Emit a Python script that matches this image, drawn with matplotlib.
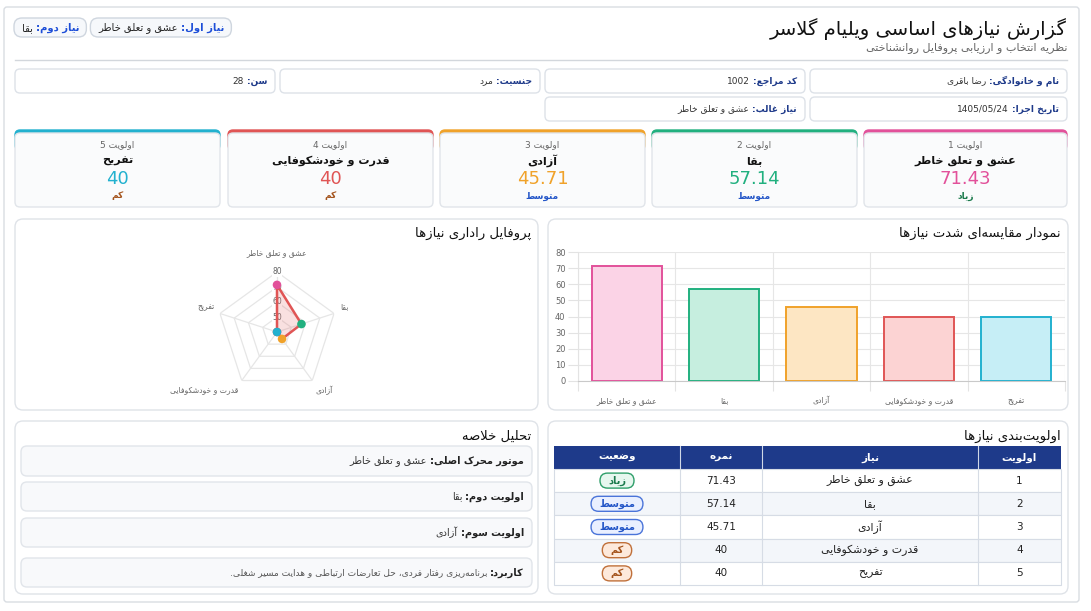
import re
import numpy as np
import matplotlib
matplotlib.use("Agg")
from matplotlib import pyplot as plt
from matplotlib.patches import FancyBboxPatch, Rectangle

plt.rcParams['font.family'] = ['DejaVu Sans']

# ---- data ----
needs = ['عشق و تعلق خاطر', 'بقا', 'آزادی', 'قدرت و خودشکوفایی', 'تفریح']
scores = [71.43, 57.14, 45.71, 40, 40]
levels = ['زیاد', 'متوسط', 'متوسط', 'کم', 'کم']
priorities = [1, 2, 3, 4, 5]
need_colors = ['#e2519a', '#21b07f', '#f0a22a', '#e05555', '#22b1cf']
need_fills = ['#fbd3e6', '#c6eedf', '#fde6c3', '#fcd3d3', '#c6eef6']

info_labels = ['نام و خانوادگی:', 'کد مراجع:', 'جنسیت:', 'سن:', 'تاریخ اجرا:', 'نیاز غالب:']
info_values = ['رضا باقری', '1002', 'مرد', '28', '1405/05/24', 'عشق و تعلق خاطر']

title = 'گزارش نیازهای اساسی ویلیام گلاسر'
subtitle = 'نظریه انتخاب و ارزیابی پروفایل روانشناختی'
badge_labels = ['نیاز اول:', 'نیاز دوم:']
badge_values = ['عشق و تعلق خاطر', 'بقا']

summary_labels = ['موتور محرک اصلی:', 'اولویت دوم:', 'اولویت سوم:', 'کاربرد:']
summary_values = ['عشق و تعلق خاطر', 'بقا', 'آزادی',
                  'برنامه‌ریزی رفتار فردی، حل تعارضات ارتباطی و هدایت مسیر شغلی.']

table_cols = ['اولویت', 'نیاز', 'نمره', 'وضعیت']

level_style = {
    'زیاد': ('#e7f7ef', '#2e9e69', '#1b7a4c'),
    'متوسط': ('#e9efff', '#4a74d9', '#2456c8'),
    'کم': ('#fde9db', '#c0703a', '#a4541d'),
}

# ---- minimal persian shaping + rtl ordering ----
DUAL = {'ب': 0xFE8F, 'پ': 0xFB56, 'ت': 0xFE95, 'ث': 0xFE99, 'ج': 0xFE9D, 'چ': 0xFB7A,
        'ح': 0xFEA1, 'خ': 0xFEA5, 'س': 0xFEB1, 'ش': 0xFEB5, 'ص': 0xFEB9, 'ض': 0xFEBD,
        'ط': 0xFEC1, 'ظ': 0xFEC5, 'ع': 0xFEC9, 'غ': 0xFECD, 'ف': 0xFED1, 'ق': 0xFED5,
        'ک': 0xFB8E, 'گ': 0xFB92, 'ل': 0xFEDD, 'م': 0xFEE1, 'ن': 0xFEE5, 'ه': 0xFEE9,
        'ی': 0xFBFC}
RIGHT = {'ا': 0xFE8D, 'آ': 0xFE81, 'د': 0xFEA9, 'ذ': 0xFEAB, 'ر': 0xFEAD, 'ز': 0xFEAF,
         'ژ': 0xFB8A, 'و': 0xFEED}


def shape(s):
    out = []
    i, n = 0, len(s)
    while i < n:
        c = s[i]
        if c not in DUAL and c not in RIGHT:
            if c != '\u200c':
                out.append(c)
            i += 1
            continue
        jp = i > 0 and s[i - 1] in DUAL
        if c == 'ل' and i + 1 < n and s[i + 1] in 'اآ':
            base = 0xFEFB if s[i + 1] == 'ا' else 0xFEF5
            out.append(chr(base + (1 if jp else 0)))
            i += 2
            continue
        nxt = s[i + 1] if i + 1 < n else ''
        if c in DUAL:
            jn = nxt in DUAL or nxt in RIGHT
            f = 3 if (jp and jn) else 1 if jp else 2 if jn else 0
            out.append(chr(DUAL[c] + f))
        else:
            out.append(chr(RIGHT[c] + (1 if jp else 0)))
        i += 1
    return ''.join(out)


def fa(s):
    runs = re.findall(r'[0-9A-Za-z][0-9A-Za-z./]*|[^0-9A-Za-z]+', shape(s))
    return ''.join(r if r[0].isascii() and r[0].isalnum() else r[::-1]
                   for r in reversed(runs))


# ---- canvas ----
W, H = 1091, 611
fig = plt.figure(figsize=(W / 100, H / 100), dpi=100)
fig.patch.set_facecolor('white')
bg = fig.add_axes([0, 0, 1, 1])
bg.set_xlim(0, W)
bg.set_ylim(H, 0)
bg.axis('off')
renderer = fig.canvas.get_renderer()


def rbox(x0, y0, x1, y1, fc='white', ec='#dfe3e8', r=6, lw=1, z=1):
    p = FancyBboxPatch((x0, y0), x1 - x0, y1 - y0,
                       boxstyle='round,pad=0,rounding_size=%s' % r,
                       fc=fc, ec=ec, lw=lw, zorder=z)
    bg.add_patch(p)
    return p


def txt(x, y, s, size=7, color='#222', weight='normal', ha='right', z=5):
    return bg.text(x, y, fa(s), fontsize=size, color=color, weight=weight,
                   ha=ha, va='center', zorder=z)


def width_of(t):
    return t.get_window_extent(renderer).width


def rich(xr, y, parts, gap=3):
    # parts laid out right to left
    x = xr
    for s, size, color, weight in parts:
        t = txt(x, y, s, size, color, weight)
        x -= width_of(t) + gap
    return x


# outer container
rbox(4, 7, 1079, 602, fc='white', ec='#d9dde2', r=3)

# header
txt(1067, 29, title, size=14, color='#111')
txt(1067, 48, subtitle, size=8, color='#666')
bg.plot([15, 1067], [60, 60], color='#d3d7dc', lw=1, zorder=2)

x = 14
for lab, val in reversed(list(zip(badge_labels, badge_values))):
    t1 = txt(0, 28, lab, 7.2, '#1d4ed8', 'bold')
    t2 = txt(0, 28, val, 7.2, '#222', 'normal')
    w1, w2 = width_of(t1), width_of(t2)
    t1.remove()
    t2.remove()
    bw = w1 + w2 + 18
    rbox(x, 18, x + bw, 37, fc='#f6f8fb', ec='#cfd6df', r=8)
    rich(x + bw - 7, 28, [(lab, 7.2, '#1d4ed8', 'bold'), (val, 7.2, '#222', 'normal')])
    x += bw + 4

# info boxes
info_boxes = [(810, 69, 1067, 93), (545, 69, 805, 93), (280, 69, 540, 93), (15, 69, 275, 93),
              (810, 97, 1067, 121), (545, 97, 805, 121)]
for (x0, y0, x1, y1), lab, val in zip(info_boxes, info_labels, info_values):
    rbox(x0, y0, x1, y1, fc='white', ec='#dde2e8', r=5)
    rich(x1 - 8, (y0 + y1) / 2, [(lab, 6.5, '#1e3a8a', 'bold'), (val, 6.5, '#333', 'normal')])

# priority cards
card_x = [(864, 1067), (652, 857), (440, 645), (228, 433), (15, 220)]
for (x0, x1), p, nm, sc, lv, col in zip(card_x, priorities, needs, scores, levels, need_colors):
    rbox(x0, 130, x1, 150, fc=col, ec=col, r=5, z=1)
    rbox(x0, 133, x1, 207, fc='#fafbfc', ec='#e1e5ea', r=5, z=2)
    cx = (x0 + x1) / 2
    txt(cx, 145, 'اولویت %d' % p, 6.5, '#666', ha='center')
    txt(cx, 161, nm, 8, '#111', 'bold', ha='center')
    txt(cx, 179, ('%g' % sc), 13, col, ha='center')
    txt(cx, 196, lv, 6.5, level_style[lv][2], 'bold', ha='center')

# panels
rbox(15, 219, 538, 410, fc='white', ec='#dfe3e8', r=8)
rbox(548, 219, 1068, 410, fc='white', ec='#dfe3e8', r=8)
rbox(15, 421, 538, 594, fc='white', ec='#dfe3e8', r=8)
rbox(548, 421, 1068, 594, fc='white', ec='#dfe3e8', r=8)
txt(531, 233, 'پروفایل راداری نیازها', 9.5, '#111')
txt(1061, 233, 'نمودار مقایسه‌ای شدت نیازها', 9.5, '#111')
txt(531, 436, 'تحلیل خلاصه', 9.5, '#111')
txt(1061, 436, 'اولویت‌بندی نیازها', 9.5, '#111')

# ---- radar ----
cx, cy, R = 277, 332, 60
rax = fig.add_axes([(cx - R) / W, 1 - (cy + R) / H, 2 * R / W, 2 * R / H], projection='polar')
rax.set_theta_zero_location('N')
rax.set_theta_direction(-1)
rax.set_ylim(40, 80)
rax.grid(False)
rax.spines['polar'].set_visible(False)
rax.set_xticks([])
rax.set_yticks([])
rax.patch.set_alpha(0)
theta = np.linspace(0, 2 * np.pi, len(needs), endpoint=False)
tc = np.append(theta, theta[0])
for r in [50, 60, 70, 80]:
    rax.plot(tc, [r] * len(tc), color='#e6e6e6', lw=0.9, zorder=1)
for th in theta:
    rax.plot([th, th], [40, 80], color='#e6e6e6', lw=0.9, zorder=1)
for r in [50, 60, 70, 80]:
    rax.text(0, r, str(r), fontsize=5.5, color='#666', ha='center', va='center', zorder=2,
             bbox=dict(fc='white', ec='none', pad=0.3))
sc_c = np.append(scores, scores[0])
rax.fill(tc, sc_c, color='#e05555', alpha=0.18, zorder=3, lw=0)
rax.plot(tc, sc_c, color='#e05555', lw=1.8, zorder=4)
rax.scatter(theta, scores, c=need_colors, s=38, zorder=5, edgecolors='none', clip_on=False)
for th, nm in zip(theta, needs):
    s = np.sin(th)
    ha = 'center' if abs(s) < 0.1 else ('left' if s > 0 else 'right')
    c = np.cos(th)
    va = 'bottom' if c > 0.1 else 'top'
    rr = 90 if abs(s) < 0.1 else 84
    rax.text(th, rr, fa(nm), fontsize=5.5, color='#666', ha=ha, va=va, clip_on=False)

# ---- bar chart ----
bx0, bx1, by0, by1 = 578, 1065, 252, 381
bax = fig.add_axes([bx0 / W, 1 - by1 / H, (bx1 - bx0) / W, (by1 - by0) / H])
xs = np.arange(len(needs))
bars = bax.bar(xs, scores, width=0.72, color=need_fills, edgecolor=need_colors, linewidth=1.4, zorder=3)
bax.set_xlim(-0.5, len(needs) - 0.5)
bax.set_ylim(0, 80)
bax.set_yticks(range(0, 81, 10))
bax.set_xticks(xs)
bax.set_xticklabels([fa(n) for n in needs], fontsize=5.5, color='#666')
bax.set_xticks(np.arange(-0.5, len(needs), 1), minor=True)
bax.tick_params(axis='x', which='major', length=0, pad=11)
bax.tick_params(axis='x', which='minor', length=7, color='#e3e3e3', width=0.8)
bax.tick_params(axis='y', length=7, color='#e3e3e3', width=0.8, labelsize=6, labelcolor='#666', pad=2)
bax.grid(axis='y', color='#e6e6e6', lw=0.8, zorder=0)
bax.grid(axis='x', which='minor', color='#e6e6e6', lw=0.8, zorder=0)
for sp in ['top', 'right']:
    bax.spines[sp].set_visible(False)
bax.spines['left'].set_color('#e3e3e3')
bax.spines['bottom'].set_color('#c9c9c9')
bax.spines['bottom'].set_zorder(4)
bax.patch.set_alpha(0)

# ---- summary ----
sum_boxes = [(446, 476), (482, 511), (518, 547), (558, 587)]
for (y0, y1), lab, val, k in zip(sum_boxes, summary_labels, summary_values, range(4)):
    rbox(21, y0, 532, y1, fc='#f8f9fb', ec='#e1e5ea', r=6)
    vcol = '#555' if k == 3 else '#333'
    vsz = 6.5 if k == 3 else 7
    rich(524, (y0 + y1) / 2, [(lab, 7, '#222', 'bold'), (val, vsz, vcol, 'normal')])

# ---- table ----
col_x = [1061, 978, 762, 680, 554]
hy0, hy1 = 446, 469
row_h = 23.2
bg.add_patch(Rectangle((col_x[-1], hy0), col_x[0] - col_x[-1], hy1 - hy0, fc='#1e3a8a', ec='none', zorder=3))
for j, name in enumerate(table_cols):
    xc = (col_x[j] + col_x[j + 1]) / 2
    txt(xc, (hy0 + hy1) / 2, name, 7.5, 'white', 'bold', ha='center', z=6)
for k in range(1, 4):
    bg.plot([col_x[k]] * 2, [hy0, hy1], color='#d0d8e6', lw=0.8, zorder=4)
for i, (p, nm, sc, lv) in enumerate(zip(priorities, needs, scores, levels)):
    y0 = hy1 + i * row_h
    fc = '#f3f6fa' if i % 2 == 1 else 'white'
    bg.add_patch(Rectangle((col_x[-1], y0), col_x[0] - col_x[-1], row_h, fc=fc, ec='#d6dce5', lw=0.8, zorder=3))
    for k in range(1, 4):
        bg.plot([col_x[k]] * 2, [y0, y0 + row_h], color='#d6dce5', lw=0.8, zorder=4)
    yc = y0 + row_h / 2
    txt((col_x[0] + col_x[1]) / 2, yc, str(p), 7.5, '#222', ha='center', z=6)
    txt((col_x[1] + col_x[2]) / 2, yc, nm, 7.8, '#222', ha='center', z=6)
    txt((col_x[2] + col_x[3]) / 2, yc, '%g' % sc, 7.5, '#222', ha='center', z=6)
    bfc, bec, btc = level_style[lv]
    xc = (col_x[3] + col_x[4]) / 2
    t = txt(xc, yc, lv, 7, btc, 'bold', ha='center', z=7)
    bw = width_of(t) + 16
    rbox(xc - bw / 2, yc - 7.5, xc + bw / 2, yc + 7.5, fc=bfc, ec=bec, r=7.5, lw=1, z=5)

fig.savefig('out.png', dpi=100, facecolor='white')
